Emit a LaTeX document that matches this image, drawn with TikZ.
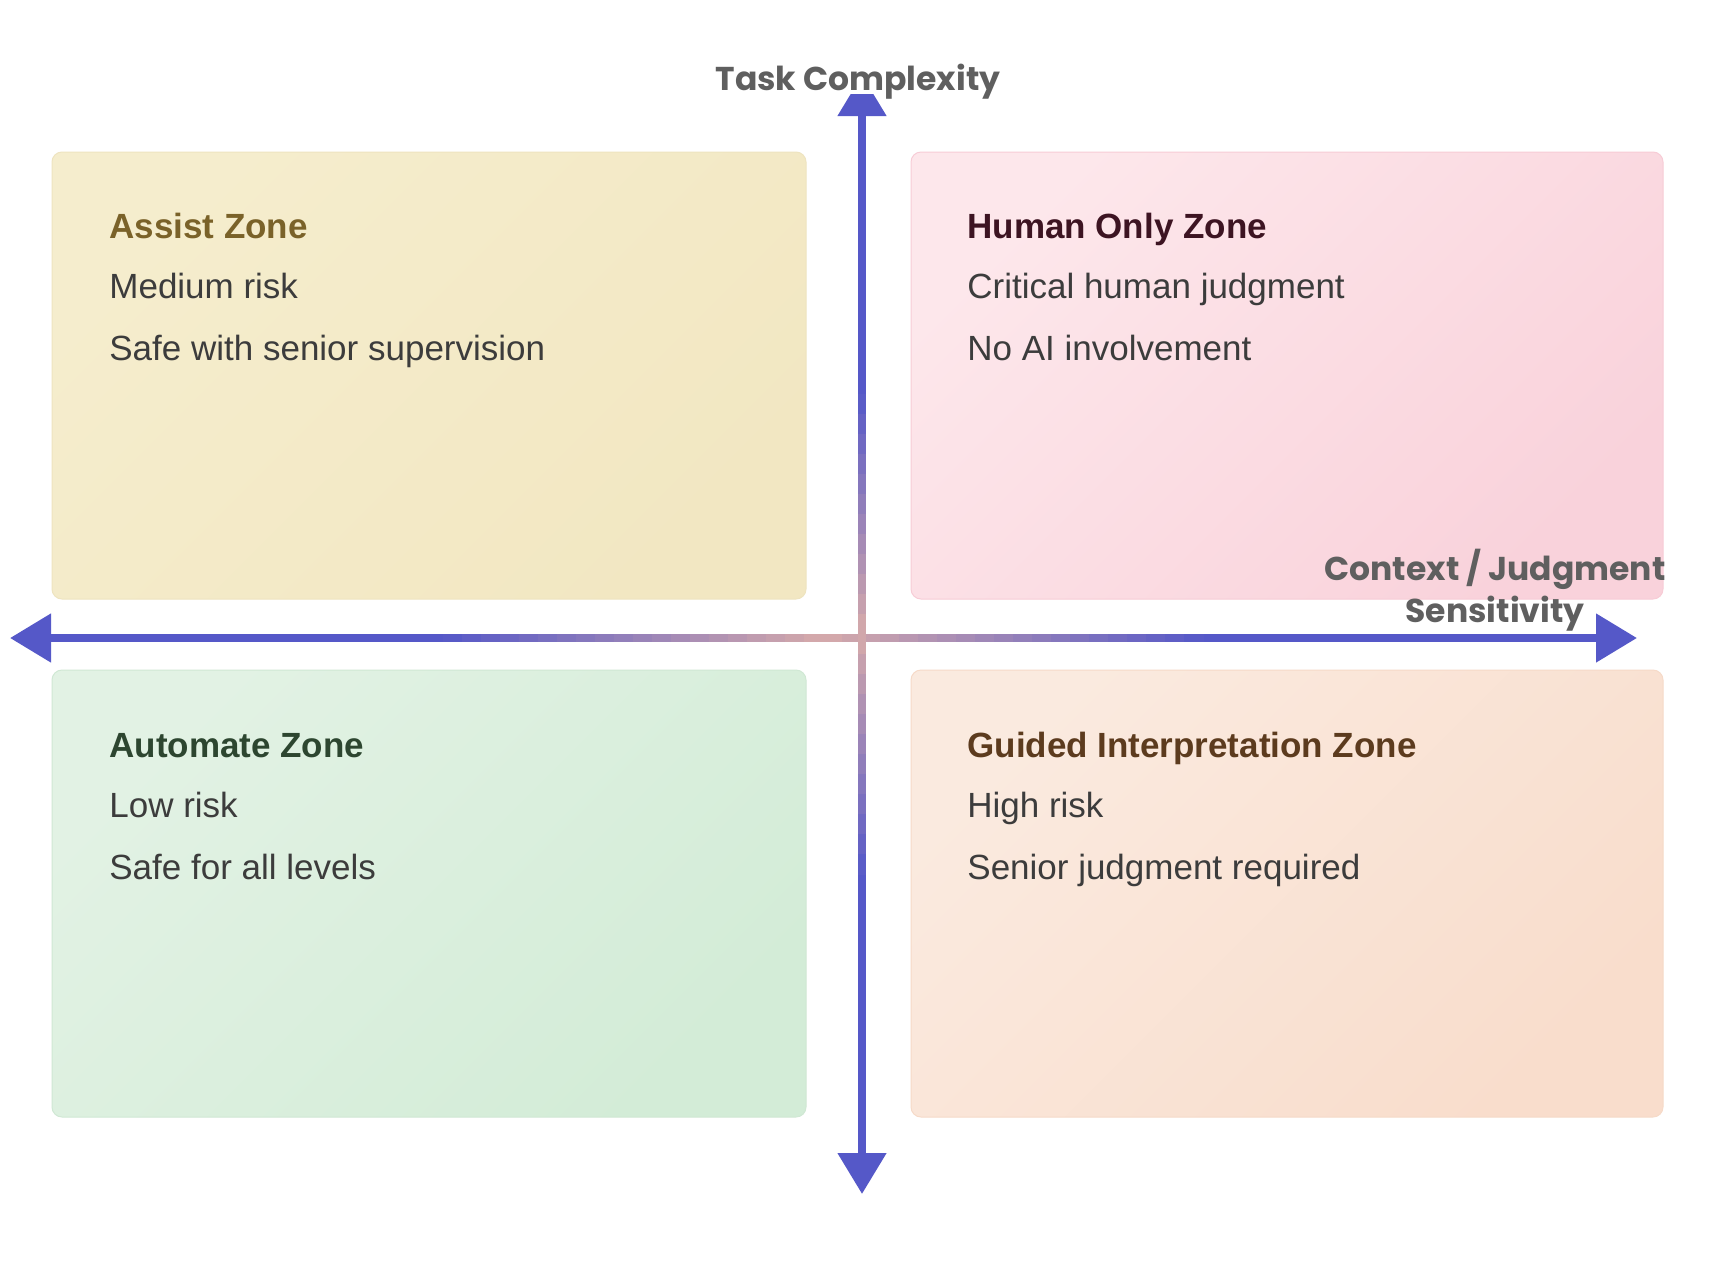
\documentclass[tikz,border=0pt]{standalone}
\usepackage{fontspec}
\setmainfont{Liberation Sans}
\newfontfamily\axisfont{Poppins}
\usetikzlibrary{arrows.meta}

\definecolor{axisblue}{RGB}{85,88,200}
\definecolor{axispink}{RGB}{214,170,170}
\definecolor{labelgray}{RGB}{95,95,95}
\definecolor{textdark}{RGB}{60,60,60}
\definecolor{assisttop}{RGB}{245,237,205}
\definecolor{assistbot}{RGB}{242,231,194}
\definecolor{assistline}{RGB}{238,228,192}
\definecolor{assisttext}{RGB}{122,98,41}
\definecolor{humantop}{RGB}{253,231,235}
\definecolor{humanbot}{RGB}{249,210,219}
\definecolor{humanline}{RGB}{247,204,214}
\definecolor{humantext}{RGB}{61,20,34}
\definecolor{autotop}{RGB}{226,242,228}
\definecolor{autobot}{RGB}{211,236,215}
\definecolor{autoline}{RGB}{208,232,212}
\definecolor{autotext}{RGB}{45,70,48}
\definecolor{guidedtop}{RGB}{250,234,223}
\definecolor{guidedbot}{RGB}{249,221,204}
\definecolor{guidedline}{RGB}{246,218,200}
\definecolor{guidedtext}{RGB}{92,59,30}

\tikzstyle{zone}=[rounded corners=5pt,line width=0.5pt,minimum width=377pt,minimum height=223.5pt,inner sep=0pt]
\tikzstyle{title}=[anchor=base west,inner sep=0pt,font=\bfseries\fontsize{17.5}{21}\selectfont]
\tikzstyle{info}=[anchor=base west,inner sep=0pt,text=textdark,font=\fontsize{17.5}{21}\selectfont]
\tikzstyle{axislabel}=[inner sep=0pt,text=labelgray,font=\axisfont\bfseries\fontsize{16.5}{21}\selectfont]
\tikzstyle{axis}=[line width=4pt,axisblue,{Triangle[length=20.5pt,width=23.5pt]}-{Triangle[length=20.5pt,width=23.5pt]}]

\begin{document}
\begin{tikzpicture}[x=0.5pt,y=-0.5pt]
\path[fill=white,use as bounding box] (0,0) rectangle (1716,1270);

% quadrants
\node[zone,draw=assistline,top color=assisttop,bottom color=assistbot,shading angle=45] (assist) at (429,375.5) {};
\node[zone,draw=humanline,top color=humantop,bottom color=humanbot,shading angle=45,minimum width=376pt] (human) at (1287,375.5) {};
\node[zone,draw=autoline,top color=autotop,bottom color=autobot,shading angle=45] (auto) at (429,893.5) {};
\node[zone,draw=guidedline,top color=guidedtop,bottom color=guidedbot,shading angle=45,minimum width=376pt] (guided) at (1287,893.5) {};

\node[title,text=assisttext] (t1) at (109,238) {Assist Zone};
\node[info] (a1) at (109,298) {Medium risk};
\node[info] (a2) at (109,360) {Safe with senior supervision};

\node[title,text=humantext] (t2) at (967,238) {Human Only Zone};
\node[info] (h1) at (967,298) {Critical human judgment};
\node[info] (h2) at (967,360) {No AI involvement};

\node[title,text=autotext] (t3) at (109,757) {Automate Zone};
\node[info] (u1) at (109,817) {Low risk};
\node[info] (u2) at (109,879) {Safe for all levels};

\node[title,text=guidedtext] (t4) at (967,757) {Guided Interpretation Zone};
\node[info] (g1) at (967,817) {High risk};
\node[info] (g2) at (967,879) {Senior judgment required};

% axes
\coordinate (west) at (10,638);
\coordinate (east) at (1637,638);
\coordinate (north) at (862,75);
\coordinate (south) at (862,1194);

\draw[axis] (west) -- (east);
\draw[axis] (south) -- (north);

% colour fade towards the crossing
\foreach \i in {0,...,39} {
  \pgfmathsetmacro\p{100*(1-abs(\i-19.5)/20)}
  \draw[line width=4pt,axispink!\p!axisblue] (443+19*\i,638) -- (443+19*\i+20,638);
}
\foreach \i in {0,...,23} {
  \pgfmathsetmacro\p{100*(1-abs(\i-11.5)/12)}
  \draw[line width=4pt,axispink!\p!axisblue] (862,394+20*\i) -- (862,394+20*\i+21);
}

\node[axislabel,fill=white,anchor=base,text depth=2pt] (tc) at (858,90) {Task Complexity};
\node[axislabel,align=center,anchor=base] (cj) at (1495,622) {Context / Judgment\\Sensitivity};

\end{tikzpicture}
\end{document}
